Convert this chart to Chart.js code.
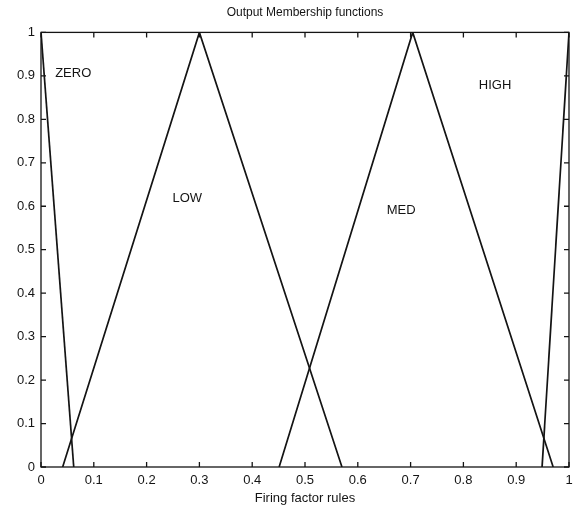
<!DOCTYPE html>
<html>
<head>
<meta charset="utf-8">
<script src="https://cdn.jsdelivr.net/npm/chart.js@4"></script>
<style>
  html,body{margin:0;padding:0;background:#fff;}
  #wrap{width:574px;height:506px;}
</style>
</head>
<body>
<div id="wrap"><canvas id="mf" width="574" height="506"></canvas></div>
<script>
// membership function corners
const zeroX = [0, 0.062];
const zeroY = [1, 0];
const lowX  = [0.041, 0.30, 0.57];
const lowY  = [0, 1, 0];
const medX  = [0.451, 0.704, 0.97];
const medY  = [0, 1, 0];
const highX = [0.949, 1.0];
const highY = [0, 1];

const xTicks = [0,0.1,0.2,0.3,0.4,0.5,0.6,0.7,0.8,0.9,1];
const yTicks = [0,0.1,0.2,0.3,0.4,0.5,0.6,0.7,0.8,0.9,1];

// in-plot set names
const setNames = ['ZERO','LOW','MED','HIGH'];
const setNameX = [0.061, 0.277, 0.682, 0.86];
const setNameY = [0.906, 0.618, 0.591, 0.878];

const INK = '#141414';
const FONT = 'Arial, "Liberation Sans", sans-serif';

function pts(xs, ys){ return xs.map((x,i)=>({x:x, y:ys[i]})); }
function fmt(v){ return v===0 ? '0' : (v===1 ? '1' : String(v)); }

// box round the plot, inward ticks on all four sides, set names
const boxPlugin = {
  id:'box',
  afterDatasetsDraw(chart){
    const {ctx, chartArea:a, scales} = chart;
    ctx.save();
    ctx.strokeStyle = INK; ctx.lineWidth = 1.3;
    ctx.strokeRect(a.left, a.top, a.right-a.left, a.bottom-a.top);
    ctx.beginPath();
    xTicks.forEach(v=>{
      const px = scales.x.getPixelForValue(v);
      ctx.moveTo(px, a.bottom); ctx.lineTo(px, a.bottom-5);
      ctx.moveTo(px, a.top); ctx.lineTo(px, a.top+5);
    });
    yTicks.forEach(v=>{
      const py = scales.y.getPixelForValue(v);
      ctx.moveTo(a.left, py); ctx.lineTo(a.left+5, py);
      ctx.moveTo(a.right, py); ctx.lineTo(a.right-5, py);
    });
    ctx.stroke();
    ctx.fillStyle = INK;
    ctx.font = '13px ' + FONT;
    ctx.textAlign = 'center'; ctx.textBaseline = 'middle';
    setNames.forEach((n,i)=>{
      ctx.fillText(n, scales.x.getPixelForValue(setNameX[i]), scales.y.getPixelForValue(setNameY[i]));
    });
    ctx.restore();
  }
};

const ds = (label, xs, ys) => ({
  label: label, data: pts(xs, ys), showLine: true,
  borderColor: INK, borderWidth: 1.7, pointRadius: 0, tension: 0, fill: false
});

new Chart(document.getElementById('mf').getContext('2d'), {
  type: 'scatter',
  data: { datasets: [
    ds('ZERO', zeroX, zeroY),
    ds('LOW', lowX, lowY),
    ds('MED', medX, medY),
    ds('HIGH', highX, highY)
  ]},
  options: {
    responsive: false, animation: false,
    layout: { padding: { left: 0, right: 0, top: 0, bottom: 0 } },
    plugins: {
      legend: { display: false },
      tooltip: { enabled: false },
      title: {
        display: true, text: 'Output Membership functions', fullSize: false,
        color: INK, font: { family: FONT, size: 12, weight: 'normal' },
        padding: { top: 5, bottom: 13 }
      }
    },
    scales: {
      x: {
        type: 'linear', min: 0, max: 1,
        grid: { display: false, drawTicks: false },
        border: { display: false },
        afterBuildTicks: s => { s.ticks = xTicks.map(v=>({value:v})); },
        afterFit: s => { s.height = 39; s.paddingRight = 5; },
        ticks: { color: INK, padding: 6, maxRotation: 0, autoSkip: false,
          font: { family: FONT, size: 13 },
          callback: v => fmt(v) },
        title: { display: true, text: 'Firing factor rules', color: INK, padding: { top: 2, bottom: 0 },
          font: { family: FONT, size: 13 } }
      },
      y: {
        type: 'linear', min: 0, max: 1,
        grid: { display: false, drawTicks: false },
        border: { display: false },
        afterBuildTicks: s => { s.ticks = yTicks.map(v=>({value:v})); },
        afterFit: s => { s.width = 41; },
        ticks: { color: INK, padding: 6, autoSkip: false,
          font: { family: FONT, size: 13 },
          callback: v => fmt(v) }
      }
    }
  },
  plugins: [boxPlugin]
});
</script>
</body>
</html>
